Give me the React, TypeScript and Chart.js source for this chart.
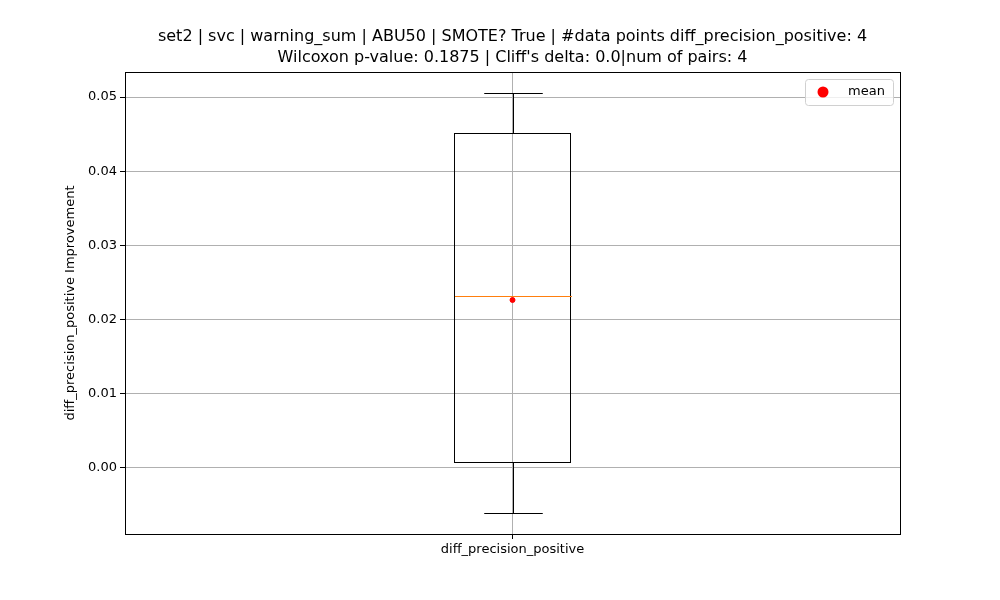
import { useEffect, useRef } from "react"
import { Chart, registerables } from "chart.js"

Chart.register(...registerables)

const categories = ["diff_precision_positive"]
const whiskerLow = [-0.00606]
const q1 = [0.00067]
const median = [0.02318]
const q3 = [0.04515]
const whiskerHigh = [0.05054]
const means = [0.02264]
const titleLines = [
  "set2 | svc | warning_sum | ABU50 | SMOTE? True | #data points diff_precision_positive: 4",
  "Wilcoxon p-value: 0.1875 | Cliff's delta: 0.0|num of pairs: 4",
]
const yLabel = "diff_precision_positive Improvement"

const font = "DejaVu Sans, sans-serif"
const px = (v: number) => Math.round(v) + 0.5

const boxPlugin = {
  id: "boxExtras",
  afterDatasetsDraw(chart: any) {
    const { ctx, chartArea, scales } = chart
    const x = scales.x
    const y = scales.y
    const meta = chart.getDatasetMeta(0)
    ctx.save()
    categories.forEach((_, i) => {
      const bar = meta.data[i]
      const cx = px(x.getPixelForValue(i))
      const half = bar.width / 2
      const yH = px(y.getPixelForValue(whiskerHigh[i]))
      const yL = px(y.getPixelForValue(whiskerLow[i]))
      ctx.strokeStyle = "#000"
      ctx.lineWidth = 1
      ctx.beginPath()
      ctx.moveTo(cx, y.getPixelForValue(q3[i]))
      ctx.lineTo(cx, yH)
      ctx.moveTo(cx - half / 2, yH)
      ctx.lineTo(cx + half / 2, yH)
      ctx.moveTo(cx, y.getPixelForValue(q1[i]))
      ctx.lineTo(cx, yL)
      ctx.moveTo(cx - half / 2, yL)
      ctx.lineTo(cx + half / 2, yL)
      ctx.stroke()
      const yM = px(y.getPixelForValue(median[i]))
      ctx.strokeStyle = "#ff7f0e"
      ctx.beginPath()
      ctx.moveTo(cx - half, yM)
      ctx.lineTo(cx + half, yM)
      ctx.stroke()
    })
    ctx.strokeStyle = "#000"
    ctx.lineWidth = 1
    ctx.strokeRect(px(chartArea.left), px(chartArea.top), Math.round(chartArea.right - chartArea.left), Math.round(chartArea.bottom - chartArea.top))
    ctx.restore()
  },
  afterDraw(chart: any) {
    const { ctx, chartArea } = chart
    ctx.save()
    ctx.fillStyle = "#000"
    ctx.font = `16px ${font}`
    ctx.textAlign = "center"
    ctx.textBaseline = "middle"
    const mid = (chartArea.left + chartArea.right) / 2
    ctx.fillText(titleLines[0], mid, 37)
    ctx.fillText(titleLines[1], mid, 58)
    // y axis title
    ctx.save()
    ctx.translate(71, (chartArea.top + chartArea.bottom) / 2)
    ctx.rotate(-Math.PI / 2)
    ctx.font = `13px ${font}`
    ctx.fillText(yLabel, 0, 0)
    ctx.restore()
    // legend
    const lx = 805, ly = 79, lw = 88, lh = 26
    ctx.fillStyle = "rgba(255,255,255,0.8)"
    ctx.strokeStyle = "#d0d0d0"
    ctx.beginPath()
    ctx.roundRect(lx + 0.5, ly + 0.5, lw, lh, 3)
    ctx.fill()
    ctx.stroke()
    ctx.fillStyle = "red"
    ctx.beginPath()
    ctx.arc(lx + 18, ly + 13, 5.5, 0, Math.PI * 2)
    ctx.fill()
    ctx.fillStyle = "#000"
    ctx.font = `13px ${font}`
    ctx.textAlign = "left"
    ctx.fillText("mean", lx + 43, ly + 13)
    ctx.restore()
  },
}

export default function App() {
  const chartRef = useRef<HTMLCanvasElement>(null)
  const chartInstance = useRef<Chart | null>(null)

  useEffect(() => {
    document.body.style.margin = "0"
    if (!chartRef.current) return
    if (chartInstance.current) chartInstance.current.destroy()
    const ctx = chartRef.current.getContext("2d")
    if (!ctx) return

    chartInstance.current = new Chart(ctx, {
      type: "bar",
      data: {
        labels: categories,
        datasets: [
          {
            type: "bar",
            data: categories.map((_, i) => [q1[i], q3[i]]) as any,
            backgroundColor: "rgba(0,0,0,0)",
            borderColor: "#000",
            borderWidth: 1,
            borderSkipped: false,
            barPercentage: 0.151,
            categoryPercentage: 1,
            order: 2,
          },
          {
            type: "line",
            data: means,
            showLine: false,
            pointRadius: 2.5,
            pointBackgroundColor: "red",
            pointBorderColor: "red",
            order: 1,
          } as any,
        ],
      },
      plugins: [boxPlugin],
      options: {
        responsive: false,
        animation: false,
        layout: { padding: { top: 72, right: 100, left: 0, bottom: 0 } },
        plugins: { legend: { display: false }, tooltip: { enabled: false }, title: { display: false } },
        scales: {
          x: {
            grid: { offset: false, color: "#b0b0b0", tickColor: "#000", tickLength: 5 },
            border: { display: false },
            ticks: { color: "#000", font: { family: font, size: 13 } },
            afterFit: (s: any) => { s.height = 66 },
          },
          y: {
            min: -0.0089,
            max: 0.05337,
            grid: { color: "#b0b0b0", tickColor: "#000", tickLength: 5 },
            border: { display: false },
            ticks: {
              color: "#000",
              font: { family: font, size: 13 },
              callback: (v: any) => Number(v).toFixed(2),
            },
            afterBuildTicks: (s: any) => {
              const t = []
              for (let k = 0; k <= 5; k++) t.push({ value: k * 0.01 })
              s.ticks = t
            },
            afterFit: (s: any) => { s.width = 125 },
          },
        },
      },
    })

    return () => {
      if (chartInstance.current) chartInstance.current.destroy()
    }
  }, [])

  return <canvas ref={chartRef} width={1000} height={600} style={{ display: "block" }}></canvas>
}
